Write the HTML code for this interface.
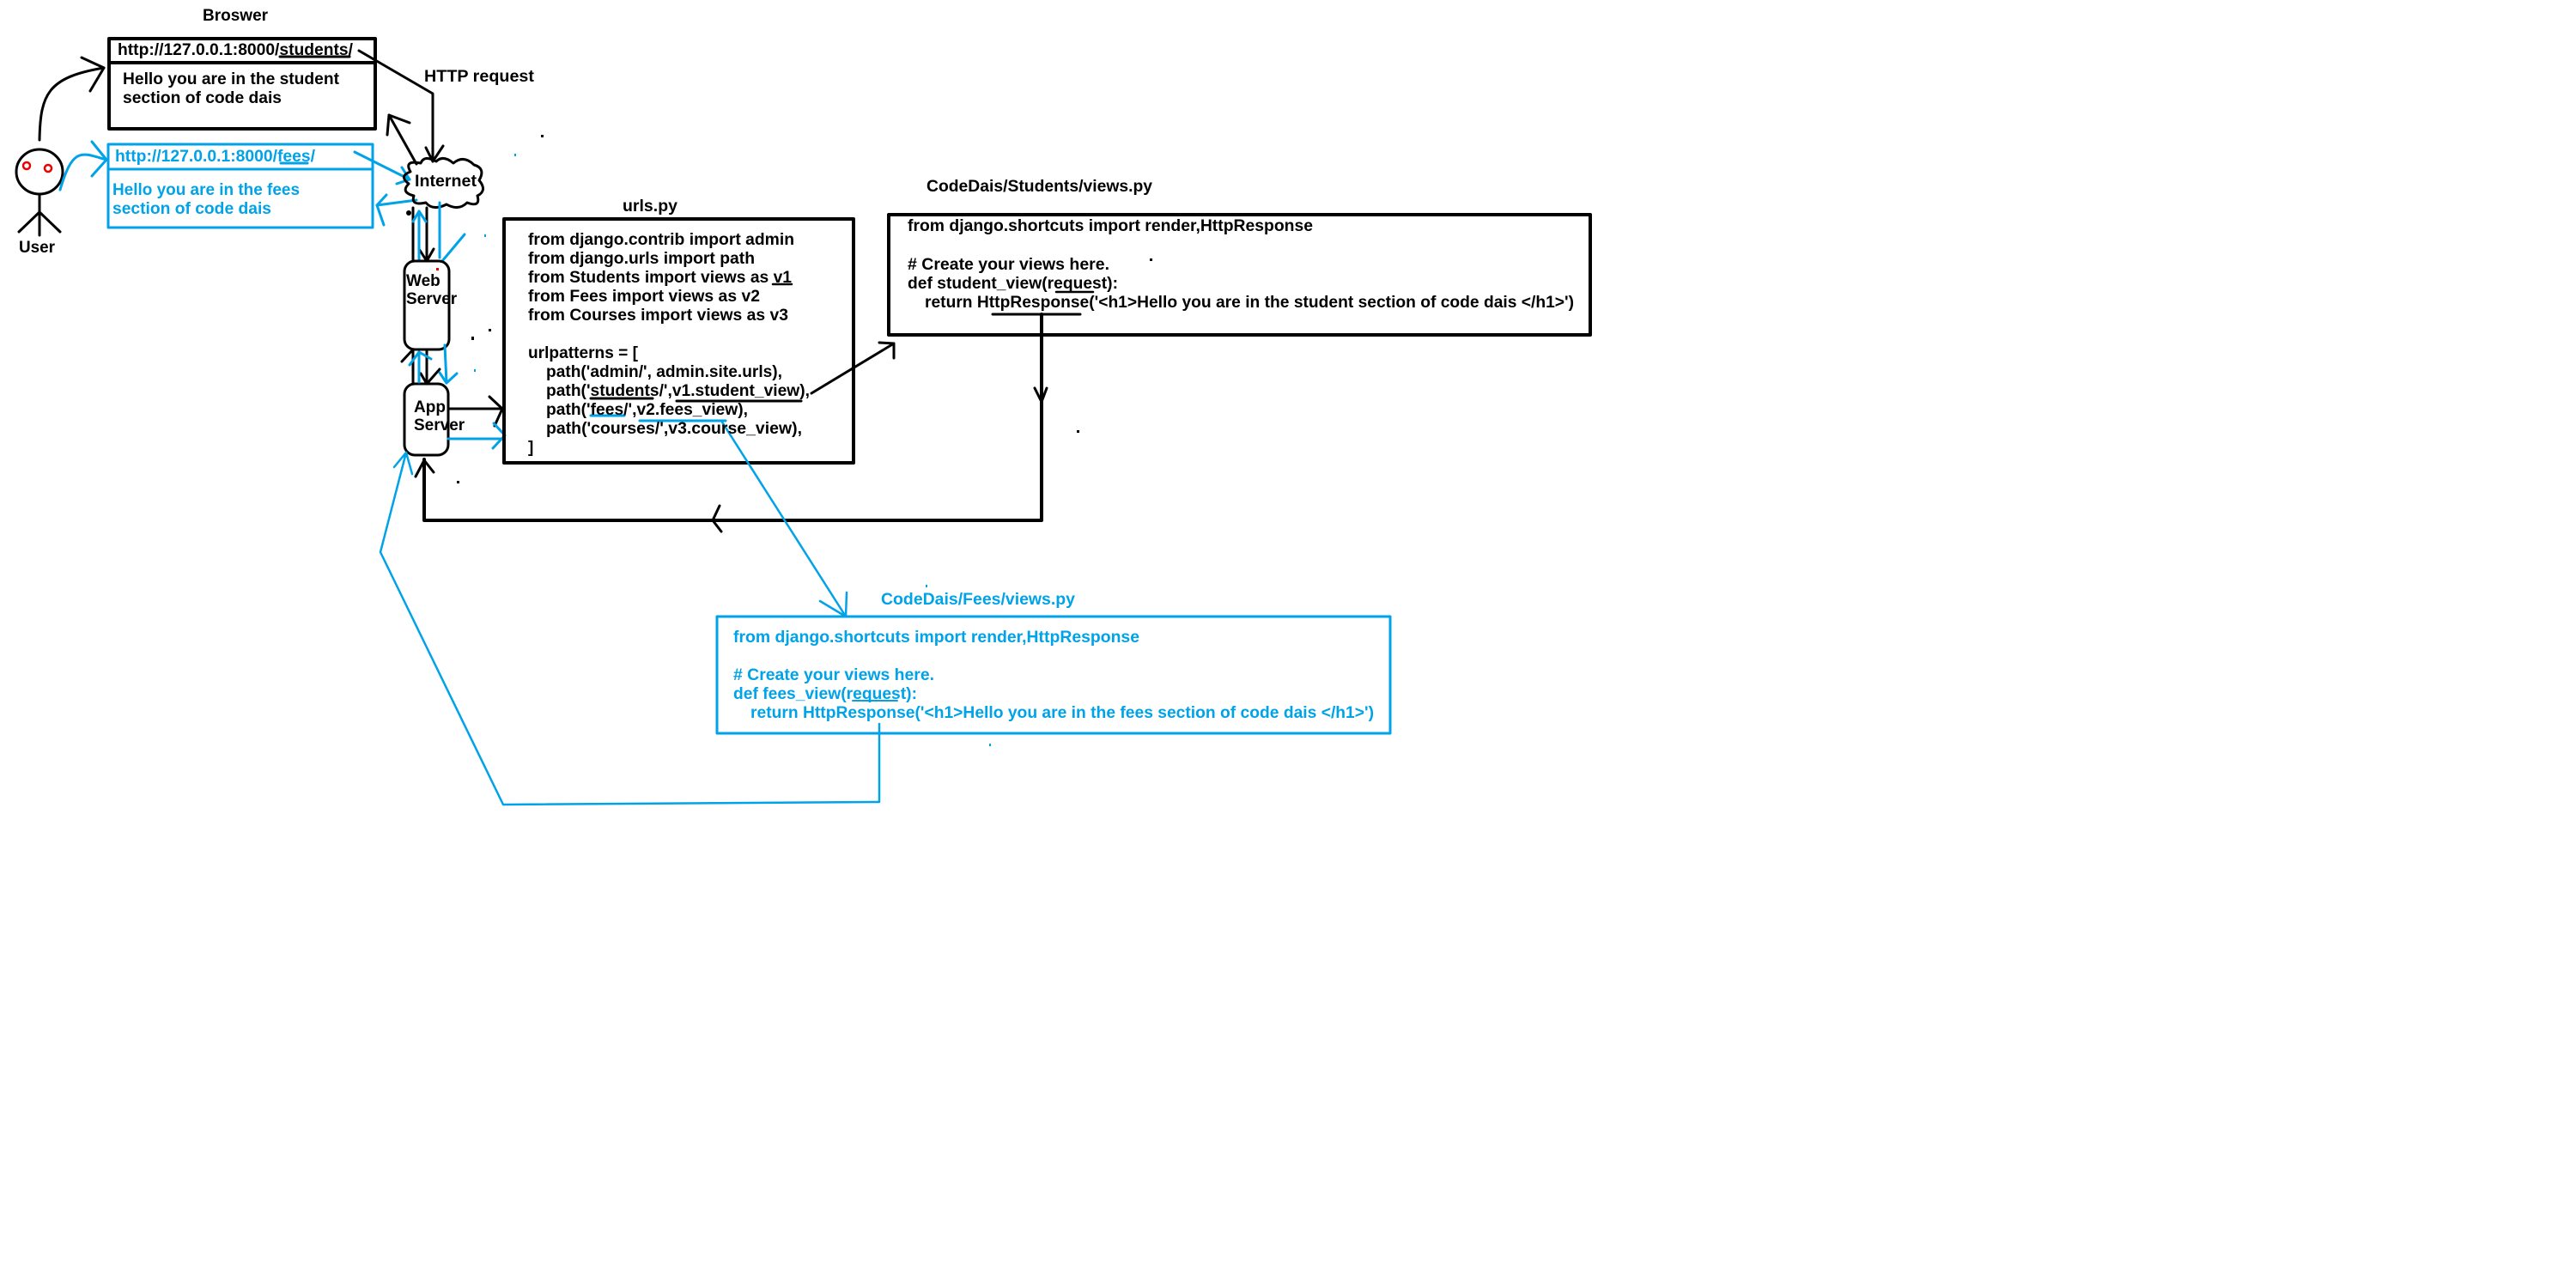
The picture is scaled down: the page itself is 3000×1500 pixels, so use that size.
<!DOCTYPE html>
<html><head><meta charset="utf-8"><style>
html,body{margin:0;padding:0;background:#fff;}
svg{display:block;}
text{font-family:"Liberation Sans",Arial,sans-serif;font-weight:bold;font-size:19px;}
.b{fill:#000}
.c{fill:#00a2e8}
</style></head><body>
<svg width="3000" height="1500" viewBox="0 0 3000 1500" xmlns="http://www.w3.org/2000/svg">
<g fill="none" stroke-linecap="round" stroke-linejoin="round">
<!-- browser boxes -->
<rect x="127" y="45" width="310" height="105" stroke="#000" stroke-width="4"/>
<line x1="129" y1="73" x2="435" y2="73" stroke="#000" stroke-width="4"/>
<rect x="126" y="168" width="308" height="97" stroke="#00a2e8" stroke-width="3"/>
<line x1="127" y1="197" x2="433" y2="197" stroke="#00a2e8" stroke-width="3"/>
<!-- underlines -->
<line x1="326" y1="66" x2="407" y2="66" stroke="#000" stroke-width="3"/>
<line x1="327" y1="190" x2="358" y2="190" stroke="#00a2e8" stroke-width="3"/>
<!-- user -->
<ellipse cx="46" cy="200" rx="27" ry="26" stroke="#000" stroke-width="3"/>
<circle cx="31" cy="193" r="4" stroke="#e00" stroke-width="2.5"/>
<circle cx="56" cy="196" r="4" stroke="#e00" stroke-width="2.5"/>
<line x1="46" y1="226" x2="46" y2="274" stroke="#000" stroke-width="3"/>
<line x1="46" y1="247" x2="22" y2="270" stroke="#000" stroke-width="3"/>
<line x1="46" y1="247" x2="70" y2="270" stroke="#000" stroke-width="3"/>
<!-- user arrows -->
<path d="M46 163 C47 110 55 90 121 79" stroke="#000" stroke-width="3"/>
<path d="M95 67 L121 79 L105 106" stroke="#000" stroke-width="3"/>
<path d="M70 221 C85 170 95 178 124 186" stroke="#00a2e8" stroke-width="3"/>
<path d="M107 165 L124 186 L107 205" stroke="#00a2e8" stroke-width="3"/>
<!-- HTTP request arrow -->
<path d="M418 59 L504 109 L504 188" stroke="#000" stroke-width="3"/>
<path d="M496 172 L504 188 L516 170" stroke="#000" stroke-width="3"/>
<path d="M485 191 L453 134" stroke="#000" stroke-width="3"/>
<path d="M451 157 L453 134 L477 143" stroke="#000" stroke-width="3"/>
<path d="M413 177 L477 209" stroke="#00a2e8" stroke-width="3"/>
<path d="M468 195 L477 209 L462 214" stroke="#00a2e8" stroke-width="3"/>
<path d="M485 233 L439 239" stroke="#00a2e8" stroke-width="3"/>
<path d="M450 227 L439 239 L447 262" stroke="#00a2e8" stroke-width="3"/>
<!-- cloud -->
<path d="M478 200 Q470 186 490 190 Q494 180 508 188 Q516 180 528 190 Q540 180 552 192 Q566 196 558 210 Q568 222 556 228 Q560 242 544 236 Q534 246 520 238 Q504 246 496 236 Q478 240 482 228 Q466 224 476 214 Q464 205 478 200 Z" stroke="#000" stroke-width="3"/>
<!-- internet-web links -->
<line x1="481" y1="242" x2="481" y2="304" stroke="#000" stroke-width="3"/>
<line x1="497" y1="242" x2="497" y2="304" stroke="#000" stroke-width="3"/>
<path d="M488 290 L497 304 L505 290" stroke="#000" stroke-width="3"/>
<line x1="488" y1="302" x2="488" y2="246" stroke="#00a2e8" stroke-width="3"/>
<path d="M481 258 L488 246 L496 258" stroke="#00a2e8" stroke-width="3"/>
<line x1="512" y1="236" x2="512" y2="300" stroke="#00a2e8" stroke-width="3"/>
<line x1="541" y1="273" x2="515" y2="304" stroke="#00a2e8" stroke-width="3"/>
<circle cx="476" cy="248" r="3" fill="#000" stroke="none"/>
<!-- servers -->
<rect x="471" y="304" width="52" height="103" rx="12" stroke="#000" stroke-width="3"/>
<rect x="471" y="447" width="51" height="83" rx="12" stroke="#000" stroke-width="3"/>
<line x1="481" y1="407" x2="481" y2="447" stroke="#000" stroke-width="3"/>
<line x1="497" y1="407" x2="497" y2="447" stroke="#000" stroke-width="3"/>
<path d="M468 421 L481 407" stroke="#000" stroke-width="3"/>
<path d="M490 435 L497 447 L512 430" stroke="#000" stroke-width="3"/>
<line x1="488" y1="445" x2="488" y2="410" stroke="#00a2e8" stroke-width="3"/>
<path d="M477 425 L488 410 L502 418" stroke="#00a2e8" stroke-width="3"/>
<line x1="518" y1="402" x2="520" y2="446" stroke="#00a2e8" stroke-width="3"/>
<path d="M512 434 L520 446 L532 435" stroke="#00a2e8" stroke-width="3"/>
<line x1="522" y1="476" x2="585" y2="476" stroke="#000" stroke-width="3"/>
<path d="M570 462 L585 476 L576 496" stroke="#000" stroke-width="3"/>
<line x1="522" y1="511" x2="585" y2="511" stroke="#00a2e8" stroke-width="3"/>
<path d="M575 493 L588 507 L574 522" stroke="#00a2e8" stroke-width="3"/>
<!-- urls box -->
<rect x="587" y="255" width="407" height="284" stroke="#000" stroke-width="4"/>
<line x1="688" y1="464" x2="760" y2="464" stroke="#000" stroke-width="3"/>
<line x1="788" y1="467" x2="933" y2="467" stroke="#000" stroke-width="3"/>
<line x1="900" y1="331" x2="922" y2="331" stroke="#000" stroke-width="2.5"/>
<line x1="688" y1="484" x2="727" y2="484" stroke="#00a2e8" stroke-width="3"/>
<line x1="745" y1="490" x2="845" y2="490" stroke="#00a2e8" stroke-width="3"/>
<!-- students views -->
<rect x="1035" y="250" width="817" height="140" stroke="#000" stroke-width="4"/>
<line x1="1156" y1="366" x2="1258" y2="366" stroke="#000" stroke-width="3"/>
<line x1="1230" y1="340" x2="1273" y2="340" stroke="#000" stroke-width="2.5"/>
<path d="M945 458 L1041 400" stroke="#000" stroke-width="3"/>
<path d="M1024 399 L1041 400 L1041 417" stroke="#000" stroke-width="3"/>
<path d="M1213 366 L1213 606 L494 606 L494 535" stroke="#000" stroke-width="4"/>
<path d="M1205 452 L1213 468 L1219 452" stroke="#000" stroke-width="3"/>
<path d="M838 589 L830 606 L840 619" stroke="#000" stroke-width="3"/>
<path d="M484 555 L494 536 L505 550" stroke="#000" stroke-width="3"/>
<!-- fees views -->
<rect x="835" y="718" width="784" height="136" stroke="#00a2e8" stroke-width="3"/>
<line x1="993" y1="816" x2="1045" y2="816" stroke="#00a2e8" stroke-width="2"/>
<path d="M840 490 L985 718" stroke="#00a2e8" stroke-width="2.5"/>
<path d="M955 700 L985 718 L986 690" stroke="#00a2e8" stroke-width="2.5"/>
<path d="M1024 843 L1024 934 L586 937 L443 643 L473 527" stroke="#00a2e8" stroke-width="2.5"/>
<path d="M459 544 L473 527 L480 552" stroke="#00a2e8" stroke-width="2.5"/>
</g>
<!-- dots -->
<g fill="#000"><rect x="630" y="157" width="3" height="3"/><rect x="569" y="383" width="3" height="3"/><rect x="549" y="392" width="3" height="4"/><rect x="1339" y="301" width="3" height="3"/><rect x="1254" y="501" width="3" height="3"/><rect x="532" y="560" width="3" height="3"/></g>
<g fill="#00a2e8"><rect x="599" y="179" width="2" height="3"/><rect x="564" y="273" width="2" height="3"/><rect x="552" y="430" width="2" height="3"/><rect x="1078" y="681" width="2" height="3"/><rect x="1152" y="866" width="2" height="3"/></g>
<rect x="508" y="312" width="3" height="3" fill="#e00"/>
<!-- texts -->
<text x="236" y="24" class="b">Broswer</text>
<text x="137" y="64" class="b" textLength="274" lengthAdjust="spacingAndGlyphs">http://127.0.0.1:8000/students/</text>
<text x="143" y="98" class="b" textLength="252" lengthAdjust="spacingAndGlyphs">Hello you are in the student</text>
<text x="143" y="120" class="b" textLength="185" lengthAdjust="spacingAndGlyphs">section of code dais</text>
<text x="134" y="188" class="c" textLength="233" lengthAdjust="spacingAndGlyphs">http://127.0.0.1:8000/fees/</text>
<text x="131" y="227" class="c" textLength="218" lengthAdjust="spacingAndGlyphs">Hello you are in the fees</text>
<text x="131" y="249" class="c" textLength="185" lengthAdjust="spacingAndGlyphs">section of code dais</text>
<text x="494" y="95" class="b" textLength="128" lengthAdjust="spacingAndGlyphs">HTTP request</text>
<text x="22" y="294" class="b" textLength="42" lengthAdjust="spacingAndGlyphs">User</text>
<text x="483" y="217" class="b" textLength="72" lengthAdjust="spacingAndGlyphs">Internet</text>
<text x="473" y="333" class="b">Web</text>
<text x="473" y="354" class="b">Server</text>
<text x="482" y="480" class="b">App</text>
<text x="482" y="501" class="b">Server</text>
<text x="725" y="246" class="b" textLength="64" lengthAdjust="spacingAndGlyphs">urls.py</text>
<text x="615" y="285" class="b" textLength="310" lengthAdjust="spacingAndGlyphs">from django.contrib import admin</text>
<text x="615" y="307" class="b" textLength="264" lengthAdjust="spacingAndGlyphs">from django.urls import path</text>
<text x="615" y="329" class="b" textLength="307" lengthAdjust="spacingAndGlyphs">from Students import views as v1</text>
<text x="615" y="351" class="b" textLength="270" lengthAdjust="spacingAndGlyphs">from Fees import views as v2</text>
<text x="615" y="373" class="b" textLength="303" lengthAdjust="spacingAndGlyphs">from Courses import views as v3</text>
<text x="615" y="417" class="b" textLength="128" lengthAdjust="spacingAndGlyphs">urlpatterns = [</text>
<text x="636" y="439" class="b" textLength="275" lengthAdjust="spacingAndGlyphs">path('admin/', admin.site.urls),</text>
<text x="636" y="461" class="b" textLength="307" lengthAdjust="spacingAndGlyphs">path('students/',v1.student_view),</text>
<text x="636" y="483" class="b" textLength="235" lengthAdjust="spacingAndGlyphs">path('fees/',v2.fees_view),</text>
<text x="636" y="505" class="b" textLength="298" lengthAdjust="spacingAndGlyphs">path('courses/',v3.course_view),</text>
<text x="615" y="527" class="b">]</text>
<text x="1079" y="223" class="b" textLength="263" lengthAdjust="spacingAndGlyphs">CodeDais/Students/views.py</text>
<text x="1057" y="269" class="b" textLength="472" lengthAdjust="spacingAndGlyphs">from django.shortcuts import render,HttpResponse</text>
<text x="1057" y="314" class="b" textLength="235" lengthAdjust="spacingAndGlyphs"># Create your views here.</text>
<text x="1057" y="336" class="b" textLength="245" lengthAdjust="spacingAndGlyphs">def student_view(request):</text>
<text x="1077" y="358" class="b" textLength="756" lengthAdjust="spacingAndGlyphs">return HttpResponse('&lt;h1&gt;Hello you are in the student section of code dais &lt;/h1&gt;')</text>
<text x="1026" y="704" class="c" textLength="226" lengthAdjust="spacingAndGlyphs">CodeDais/Fees/views.py</text>
<text x="854" y="748" class="c" textLength="473" lengthAdjust="spacingAndGlyphs">from django.shortcuts import render,HttpResponse</text>
<text x="854" y="792" class="c" textLength="234" lengthAdjust="spacingAndGlyphs"># Create your views here.</text>
<text x="854" y="814" class="c" textLength="214" lengthAdjust="spacingAndGlyphs">def fees_view(request):</text>
<text x="874" y="836" class="c" textLength="726" lengthAdjust="spacingAndGlyphs">return HttpResponse('&lt;h1&gt;Hello you are in the fees section of code dais &lt;/h1&gt;')</text>
</svg>
</body></html>
